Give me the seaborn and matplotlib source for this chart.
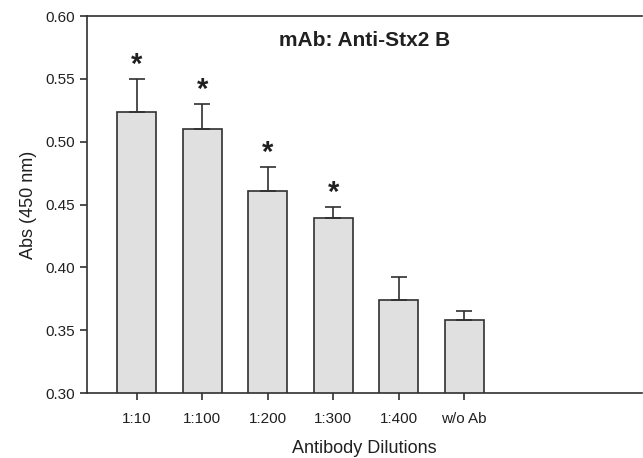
import matplotlib
matplotlib.use('Agg')
import matplotlib.pyplot as plt
import seaborn as sns
import pandas as pd
import numpy as np

# values
dilutions = ['1:10', '1:100', '1:200', '1:300', '1:400', 'w/o Ab']
abs_mean = [0.524, 0.510, 0.461, 0.439, 0.374, 0.358]
abs_err = [0.026, 0.020, 0.019, 0.009, 0.018, 0.007]
significant = [True, True, True, True, False, False]

df = pd.DataFrame({'Dilution': dilutions, 'Abs': abs_mean})

sns.set_theme(style='ticks')
plt.rcParams['font.family'] = ['Liberation Sans', 'DejaVu Sans']

edge = '#303030'
fig = plt.figure(figsize=(6.43, 4.58), dpi=100)
ax = fig.add_axes([0.1353, 0.1419, 0.8627, 0.8231])

sns.barplot(data=df, x='Dilution', y='Abs', color='#e0e0e0', width=0.6,
            edgecolor=edge, linewidth=1.2, saturation=1, ax=ax)

x = np.arange(len(dilutions))
ax.errorbar(x, abs_mean, yerr=[np.zeros(len(abs_err)), abs_err], fmt='none',
            ecolor=edge, elinewidth=1.2, capsize=6, capthick=1.2)

for xi, m, e, s in zip(x, abs_mean, abs_err, significant):
    if s:
        ax.annotate('*', (xi, m + e), xytext=(0, 0), textcoords='offset points',
                    ha='center', va='bottom', fontsize=21, fontweight='bold',
                    color='#202020')

ax.set_ylim(0.30, 0.60)
ax.set_yticks([0.30, 0.35, 0.40, 0.45, 0.50, 0.55, 0.60])
ax.set_yticklabels(['%.2f' % v for v in ax.get_yticks()])
ax.set_xlim(-0.76, 7.71)
ax.set_xlabel('Antibody Dilutions', fontsize=13, labelpad=10, color='#202020')
ax.set_ylabel('Abs (450 nm)', fontsize=13, labelpad=6, color='#202020')
ax.text(0.5, 0.935, 'mAb: Anti-Stx2 B', transform=ax.transAxes, ha='center',
        va='center', fontsize=15, fontweight='bold', color='#202020')

ax.tick_params(axis='both', labelsize=11, colors=edge, labelcolor='#202020',
               length=5, width=1.2, direction='out')
ax.tick_params(axis='x', pad=9)
ax.spines['right'].set_visible(False)
for sp in ['left', 'top', 'bottom']:
    ax.spines[sp].set_color(edge)
    ax.spines[sp].set_linewidth(1.2)

fig.savefig('out.png', dpi=100)
